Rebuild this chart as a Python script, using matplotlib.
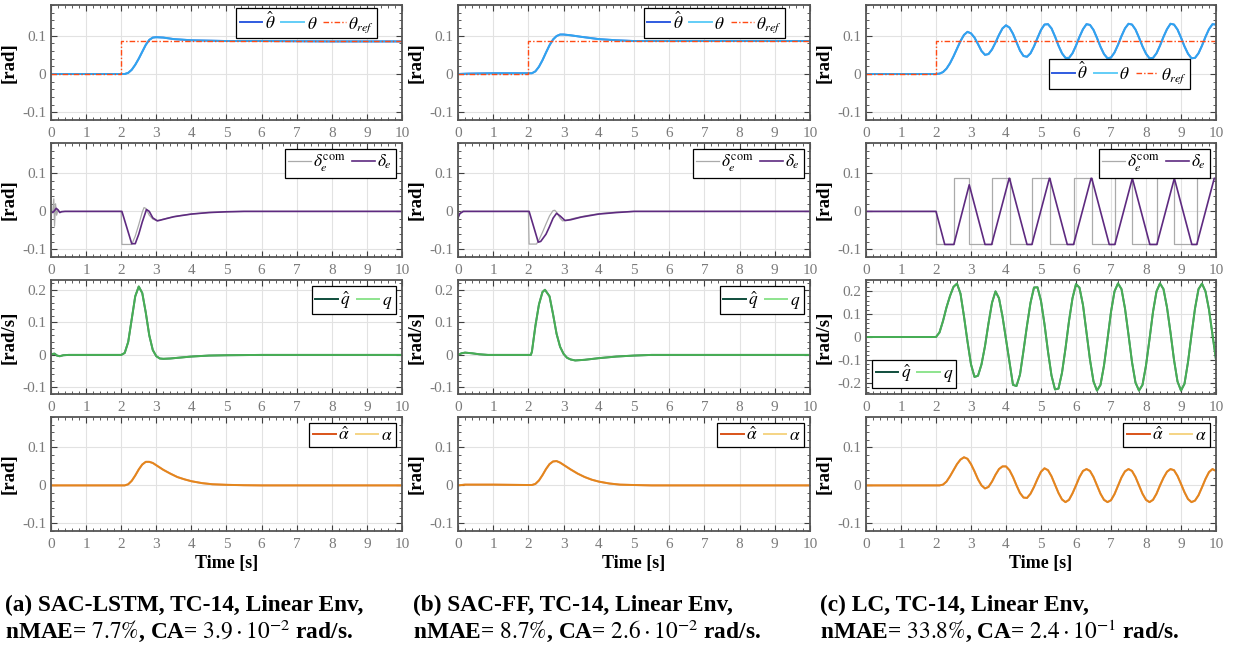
import numpy as np
import matplotlib
matplotlib.use("Agg")
import matplotlib.pyplot as plt
from matplotlib.ticker import MultipleLocator

plt.rcParams["font.family"] = ["Liberation Serif", "DejaVu Serif"]
plt.rcParams["mathtext.fontset"] = "stix"
plt.rcParams["axes.unicode_minus"] = False

# reference pitch step, shared by all three controllers
ref_t = [0, 2.0, 10]
ref_v = [0, 0.0873, 0.0873]

# (a) SAC-LSTM
a_theta_t = [0, 2.1, 2.2, 2.3, 2.4, 2.5, 2.6, 2.7, 2.8, 2.9, 3.0, 3.2, 3.5, 4.0, 4.5, 5.0, 6.0, 8.0, 10]
a_theta = [0, 0, 0.003, 0.011, 0.024, 0.04, 0.058, 0.076, 0.089, 0.095, 0.096, 0.095, 0.091, 0.088, 0.087,
           0.086, 0.086, 0.085, 0.085]
a_dcom_t = [0, 0.05, 0.08, 0.1, 0.13, 0.16, 0.2, 0.25, 0.3, 2.0, 2.02, 2.3, 2.4, 2.5, 2.6, 2.65, 2.7, 2.8,
            2.9, 3.0, 3.1, 3.3, 3.6, 4.0, 4.5, 5.0, 5.5, 10]
a_dcom = [0, 0, 0.033, -0.039, 0.02, -0.01, 0.004, -0.002, 0, 0, -0.087, -0.087, -0.065, -0.035, -0.002,
          0.01, 0.008, -0.01, -0.02, -0.024, -0.023, -0.018, -0.012, -0.007, -0.003, -0.001, 0, 0]
a_de_t = [0, 0.05, 0.1, 0.15, 0.2, 0.25, 0.3, 0.4, 2.02, 2.3, 2.4, 2.5, 2.6, 2.72, 2.8, 2.9, 3.03, 3.2,
          3.5, 4.0, 4.5, 5.0, 5.5, 10]
a_de = [0, -0.003, 0.002, 0.008, 0.004, -0.003, -0.001, 0, 0, -0.085, -0.085, -0.06, -0.028, 0.005, 0.0,
        -0.017, -0.025, -0.021, -0.014, -0.007, -0.003, -0.001, 0, 0]
a_q_t = [0, 0.05, 0.1, 0.17, 0.25, 0.35, 0.5, 2.0, 2.1, 2.2, 2.3, 2.4, 2.5, 2.6, 2.7, 2.8, 2.9, 3.0, 3.1,
         3.2, 3.4, 3.7, 4.0, 4.5, 5.0, 6.0, 10]
a_q = [0, 0.003, 0.004, -0.002, -0.004, -0.001, 0, 0, 0.006, 0.04, 0.11, 0.18, 0.21, 0.19, 0.13, 0.06,
       0.015, -0.004, -0.011, -0.012, -0.011, -0.008, -0.005, -0.002, -0.001, 0, 0]
a_alpha_t = [0, 2.1, 2.2, 2.3, 2.4, 2.5, 2.6, 2.7, 2.8, 2.9, 3.0, 3.2, 3.4, 3.6, 3.8, 4.0, 4.3, 4.6, 5.0,
             5.5, 6.0, 10]
a_alpha = [0, 0, 0.003, 0.012, 0.026, 0.042, 0.055, 0.062, 0.062, 0.059, 0.053, 0.041, 0.031, 0.022,
           0.016, 0.011, 0.006, 0.003, 0.0015, 0.0005, 0, 0]

# (b) SAC-FF
b_theta_t = [0, 0.3, 1.0, 2.0, 2.1, 2.2, 2.3, 2.4, 2.5, 2.6, 2.7, 2.8, 2.9, 3.0, 3.2, 3.5, 4.0, 4.5, 5.0,
             6.0, 10]
b_theta = [0, 0.001, 0.002, 0.002, 0.002, 0.007, 0.019, 0.036, 0.056, 0.075, 0.09, 0.099, 0.103, 0.103,
           0.101, 0.097, 0.091, 0.088, 0.086, 0.086, 0.086]
b_dcom_t = [0, 0.1, 2.0, 2.02, 2.23, 2.3, 2.4, 2.5, 2.6, 2.7, 2.75, 2.8, 2.9, 2.97, 3.1, 3.3, 3.6, 4.0,
            4.5, 5.0, 10]
b_dcom = [-0.015, 0, 0, -0.086, -0.086, -0.075, -0.055, -0.033, -0.012, 0.002, 0.003, -0.002, -0.018,
          -0.025, -0.023, -0.018, -0.012, -0.006, -0.002, 0, 0]
b_de_t = [0, 0.05, 0.15, 2.02, 2.28, 2.35, 2.5, 2.6, 2.7, 2.8, 2.9, 3.04, 3.2, 3.5, 4.0, 4.5, 5.0, 10]
b_de = [-0.017, -0.006, 0, 0, -0.081, -0.079, -0.06, -0.04, -0.018, -0.005, -0.012, -0.024, -0.022,
        -0.015, -0.007, -0.003, 0, 0]
b_q_t = [0, 0.1, 0.2, 0.4, 0.6, 0.85, 2.0, 2.07, 2.1, 2.2, 2.3, 2.4, 2.47, 2.6, 2.7, 2.8, 2.9, 3.0, 3.1,
         3.2, 3.33, 3.6, 4.0, 4.5, 5.0, 5.5, 10]
b_q = [0, 0.005, 0.007, 0.005, 0.002, 0, 0, 0, 0.01, 0.09, 0.155, 0.193, 0.2, 0.18, 0.125, 0.065, 0.025,
       0.003, -0.009, -0.014, -0.017, -0.015, -0.01, -0.005, -0.002, 0, 0]
b_alpha_t = [0, 0.2, 1.0, 2.0, 2.1, 2.2, 2.3, 2.4, 2.5, 2.6, 2.7, 2.8, 2.9, 3.0, 3.2, 3.4, 3.6, 3.8, 4.0,
             4.3, 4.6, 5.0, 5.5, 10]
b_alpha = [0, 0.002, 0.002, 0.001, 0.001, 0.004, 0.013, 0.027, 0.043, 0.056, 0.063, 0.064, 0.06, 0.054,
           0.042, 0.031, 0.022, 0.015, 0.01, 0.005, 0.002, 0.001, 0, 0]

# (c) LC: sampled every 0.1 s from t = 2 s on, zero before
c_grid = np.round(np.arange(20, 101) * 0.1, 1)
c_theta = [0.000, 0.001, 0.005, 0.014, 0.028, 0.046, 0.066, 0.086, 0.102, 0.110,
           0.106, 0.095, 0.078, 0.060, 0.050, 0.052, 0.064, 0.082, 0.102, 0.119,
           0.127, 0.121, 0.105, 0.083, 0.061, 0.047, 0.045, 0.054, 0.072, 0.094,
           0.115, 0.129, 0.130, 0.119, 0.098, 0.074, 0.054, 0.042, 0.042, 0.054,
           0.074, 0.097, 0.117, 0.130, 0.128, 0.115, 0.094, 0.071, 0.052, 0.041,
           0.043, 0.056, 0.076, 0.099, 0.119, 0.131, 0.129, 0.116, 0.095, 0.072,
           0.053, 0.041, 0.042, 0.054, 0.074, 0.097, 0.117, 0.131, 0.129, 0.116,
           0.095, 0.072, 0.053, 0.041, 0.042, 0.054, 0.074, 0.097, 0.117, 0.130,
           0.129]
c_q = [0.0, 0.02, 0.07, 0.13, 0.18, 0.22, 0.234, 0.19, 0.09, -0.02,
       -0.12, -0.175, -0.17, -0.12, -0.04, 0.06, 0.15, 0.2, 0.17, 0.09,
       -0.01, -0.11, -0.21, -0.215, -0.165, -0.06, 0.05, 0.15, 0.217, 0.218,
       0.158, 0.056, -0.064, -0.169, -0.23, -0.226, -0.157, -0.05, 0.07, 0.17,
       0.232, 0.216, 0.14, 0.02, -0.1, -0.195, -0.235, -0.21, -0.125, -0.01,
       0.11, 0.2, 0.235, 0.21, 0.125, 0.01, -0.11, -0.2, -0.235, -0.21,
       -0.125, -0.01, 0.11, 0.2, 0.235, 0.21, 0.13, 0.02, -0.1, -0.195,
       -0.235, -0.205, -0.11, 0.01, 0.125, 0.21, 0.234, 0.2, 0.12, 0.01,
       -0.1]
c_alpha = [0.0, 0.0, 0.002, 0.01, 0.024, 0.04, 0.056, 0.068, 0.074, 0.07,
           0.056, 0.037, 0.016, 0.0, -0.008, -0.004, 0.01, 0.028, 0.043, 0.05,
           0.05, 0.04, 0.022, 0.0, -0.02, -0.032, -0.033, -0.022, -0.004, 0.017,
           0.036, 0.045, 0.04, 0.024, 0.002, -0.02, -0.037, -0.044, -0.038, -0.021,
           0.0, 0.022, 0.038, 0.043, 0.038, 0.022, 0.0, -0.022, -0.038, -0.044,
           -0.039, -0.023, -0.001, 0.021, 0.037, 0.043, 0.038, 0.022, 0.0, -0.022,
           -0.038, -0.044, -0.038, -0.022, 0.0, 0.02, 0.036, 0.043, 0.04, 0.025,
           0.004, -0.018, -0.036, -0.044, -0.04, -0.026, -0.005, 0.017, 0.035, 0.043,
           0.038]
c_dcom_t = [0, 2.0, 2.51, 2.95, 3.59, 4.10, 4.74, 5.25, 5.93, 6.45, 7.11, 7.61, 8.31, 8.81, 9.45, 10]
c_dcom = [0, -0.087, 0.087, -0.087, 0.087, -0.087, 0.087, -0.087, 0.087, -0.087, 0.087, -0.087, 0.087,
          -0.087, 0.087, 0.087]
c_de_t = [0, 2.0, 2.25, 2.51, 2.95, 3.40, 3.59, 4.09, 4.10, 4.60, 4.74, 5.24, 5.25, 5.75, 5.93, 6.43,
          6.45, 6.95, 7.11, 7.61, 8.11, 8.31, 8.81, 9.31, 9.45, 9.95, 10]
c_de = [0, 0, -0.087, -0.087, 0.07, -0.087, -0.087, 0.087, 0.087, -0.087, -0.087, 0.087, 0.087, -0.087,
        -0.087, 0.087, 0.087, -0.087, -0.087, 0.087, -0.087, -0.087, 0.087, -0.087, -0.087, 0.087, 0.087]

c_t = np.r_[0.0, c_grid]

captions = [
    ("(a) SAC-LSTM, TC-14, Linear Env,", r"nMAE= $7.7\%$, CA= $3.9\cdot10^{-2}$ rad/s."),
    ("(b) SAC-FF, TC-14, Linear Env,", r"nMAE= $8.7\%$, CA= $2.6\cdot10^{-2}$ rad/s."),
    ("(c) LC, TC-14, Linear Env,", r"nMAE= $33.8\%$, CA= $2.4\cdot10^{-1}$ rad/s."),
]

columns = [
    dict(theta=(a_theta_t, a_theta), dcom=(a_dcom_t, a_dcom), de=(a_de_t, a_de), q=(a_q_t, a_q),
         alpha=(a_alpha_t, a_alpha), step_com=False),
    dict(theta=(b_theta_t, b_theta), dcom=(b_dcom_t, b_dcom), de=(b_de_t, b_de), q=(b_q_t, b_q),
         alpha=(b_alpha_t, b_alpha), step_com=False),
    dict(theta=(c_t, np.r_[0.0, c_theta]), dcom=(c_dcom_t, c_dcom), de=(c_de_t, c_de),
         q=(c_t, np.r_[0.0, c_q]), alpha=(c_t, np.r_[0.0, c_alpha]), step_com=True),
]

# colours
COL_THETA_HAT, COL_THETA, COL_REF = "#2f5be0", "#2fbdf5", "#ff4a14"
COL_DCOM, COL_DE = "#aaaaaa", "#5e2a80"
COL_Q_HAT, COL_Q = "#0f4d3c", "#5fd85f"
COL_A_HAT, COL_A = "#d95319", "#edb120"

W, H = 1236, 646
col_x = [(51, 402), (458, 810), (866, 1216)]
row_y = [(5, 120), (143, 257), (280, 394), (417, 531)]

fig = plt.figure(figsize=(W / 100, H / 100), dpi=100)


def make_axes(c, r):
    x0, x1 = col_x[c]
    y0, y1 = row_y[r]
    return fig.add_axes([x0 / W, 1 - y1 / H, (x1 - x0) / W, (y1 - y0) / H])


def style_axes(ax, ylim, yticks, ylabel):
    ax.set_xlim(0, 10)
    ax.set_ylim(*ylim)
    ax.set_xticks(range(11))
    ax.set_xticklabels([str(i) for i in range(11)])
    ax.set_yticks(yticks)
    ax.set_yticklabels([("%g" % v) for v in yticks])
    ax.xaxis.set_minor_locator(MultipleLocator(0.2))
    ax.yaxis.set_minor_locator(MultipleLocator(0.02))
    ax.tick_params(which="both", direction="in", top=True, right=True, color="#404040",
                   labelcolor="#7a7a7a", labelsize=11)
    ax.tick_params(which="major", length=4, width=0.8)
    ax.tick_params(which="minor", length=2, width=0.6)
    ax.tick_params(axis="x", pad=5)
    ax.grid(True, which="major", color="#e2e2e2", lw=0.8)
    ax.set_axisbelow(True)
    for s in ax.spines.values():
        s.set_color("#555555")
        s.set_linewidth(1.3)
    ax.set_ylabel(ylabel, fontweight="bold", fontsize=13.5, labelpad=3)


def add_legend(ax, **kw):
    opts = dict(ncol=3, fontsize=12.5, handlelength=1.3, handletextpad=0.15, columnspacing=0.35,
                borderpad=0.2, borderaxespad=0.35, fancybox=False, framealpha=1)
    opts.update(kw)
    leg = ax.legend(**opts)
    leg.get_frame().set_edgecolor("black")
    leg.get_frame().set_linewidth(0.9)
    return leg


for c, d in enumerate(columns):
    # pitch angle
    ax = make_axes(c, 0)
    ax.plot(*d["theta"], color=COL_THETA_HAT, lw=1.4, label=r"$\hat{\theta}$")
    ax.plot(*d["theta"], color=COL_THETA, lw=1.4, alpha=0.75, label=r"$\theta$")
    ax.plot(ref_t, ref_v, color=COL_REF, lw=1.0, dashes=(4, 1.5, 1, 1.5), drawstyle="steps-post",
            label=r"$\theta_{ref}$")
    style_axes(ax, (-0.12, 0.18), [-0.1, 0, 0.1], "[rad]")
    if c == 2:
        add_legend(ax, loc="lower right", bbox_to_anchor=(0.926, 0.267), borderaxespad=0)
    else:
        add_legend(ax, loc="upper right", bbox_to_anchor=(0.93, 0.975), borderaxespad=0)

    # elevator
    ax = make_axes(c, 1)
    ax.plot(*d["dcom"], color=COL_DCOM, lw=0.9, label=r"$\delta_e^{\rm com}$",
            drawstyle="steps-post" if d["step_com"] else "default")
    ax.plot(*d["de"], color=COL_DE, lw=1.2, label=r"$\delta_e$")
    style_axes(ax, (-0.12, 0.18), [-0.1, 0, 0.1], "[rad]")
    add_legend(ax, loc="upper right")

    # pitch rate
    ax = make_axes(c, 2)
    ax.plot(*d["q"], color=COL_Q_HAT, lw=1.4, label=r"$\hat{q}$")
    ax.plot(*d["q"], color=COL_Q, lw=1.4, alpha=0.7, label=r"$q$")
    if c == 2:
        style_axes(ax, (-0.25, 0.25), [-0.2, -0.1, 0, 0.1, 0.2], "[rad/s]")
        add_legend(ax, loc="lower left")
    else:
        style_axes(ax, (-0.12, 0.23), [-0.1, 0, 0.1, 0.2], "[rad/s]")
        add_legend(ax, loc="upper right")

    # angle of attack
    ax = make_axes(c, 3)
    ax.plot(*d["alpha"], color=COL_A_HAT, lw=1.4, label=r"$\hat{\alpha}$")
    ax.plot(*d["alpha"], color=COL_A, lw=1.4, alpha=0.55, label=r"$\alpha$")
    style_axes(ax, (-0.12, 0.18), [-0.1, 0, 0.1], "[rad]")
    add_legend(ax, loc="upper right")
    ax.set_xlabel("Time [s]", fontweight="bold", fontsize=13, labelpad=3)

cap_x = [5, 413, 820]
for x, (l1, l2) in zip(cap_x, captions):
    fig.text(x / W, 1 - 605 / H, l1, fontsize=16.8, fontweight="bold", va="center", ha="left")
    fig.text(x / W, 1 - 631 / H, l2, fontsize=16.8, fontweight="bold", va="center", ha="left")

fig.savefig("out.png", dpi=100)
